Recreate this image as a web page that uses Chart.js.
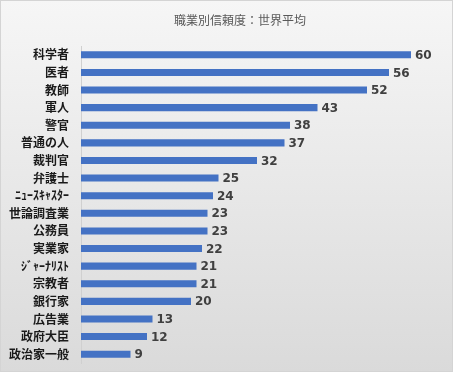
<!DOCTYPE html>
<html lang="ja">
<head>
<meta charset="utf-8">
<script src="https://cdn.jsdelivr.net/npm/chart.js@4/dist/chart.umd.min.js"></script>
<style>
  html, body { margin: 0; padding: 0; }
  #box {
    position: relative;
    width: 453px;
    height: 372px;
    background: linear-gradient(to bottom, #f6f6f6 0%, #dadada 100%);
    box-shadow: inset 0 0 0 1px #d4d4d4;
  }
  #grafico { position: absolute; left: 0; top: 0; }
</style>
</head>
<body>
<div id="box">
  <canvas id="grafico" width="453" height="372"></canvas>
</div>
<script>
/* ============================
   DATI
============================ */

const titolo = '職業別信頼度：世界平均';

const professioni = [
  '科学者', '医者', '教師', '軍人', '警官', '普通の人', '裁判官', '弁護士',
  'ﾆｭｰｽｷｬｽﾀｰ', '世論調査業', '公務員', '実業家', 'ｼﾞｬｰﾅﾘｽﾄ', '宗教者',
  '銀行家', '広告業', '政府大臣', '政治家一般'
];

const fiducia = [60, 56, 52, 43, 38, 37, 32, 25, 24, 23, 23, 22, 21, 21, 20, 13, 12, 9];

/* ============================
   TITOLO + ETICHETTE VALORI
============================ */

// il titolo nell'originale non e' centrato sul canvas, lo disegno a mano
const titoloSpostato = {
  id: 'titoloSpostato',
  afterDraw(chart) {
    const ctx = chart.ctx;
    ctx.save();
    ctx.font = '12px "Noto Sans CJK JP"';
    ctx.fillStyle = '#595959';
    ctx.textAlign = 'center';
    ctx.textBaseline = 'middle';
    ctx.fillText(titolo, 240, 20);
    ctx.restore();
  }
};

const etichetteValori = {
  id: 'etichetteValori',
  afterDatasetsDraw(chart) {
    const ctx = chart.ctx;
    const meta = chart.getDatasetMeta(0);
    ctx.save();
    ctx.font = 'bold 12px "DejaVu Sans"';
    ctx.fillStyle = '#404040';
    ctx.textAlign = 'left';
    ctx.textBaseline = 'middle';
    meta.data.forEach((bar, i) => {
      ctx.fillText(String(fiducia[i]), bar.x + 4, bar.y + 1);
    });
    ctx.restore();
  }
};

/* ============================
   GRAFICO
============================ */

new Chart(document.getElementById('grafico').getContext('2d'), {
  type: 'bar',
  data: {
    labels: professioni,
    datasets: [{
      data: fiducia,
      backgroundColor: '#4472C4',
      barPercentage: 0.4,
      categoryPercentage: 1
    }]
  },
  plugins: [etichetteValori, titoloSpostato],
  options: {
    indexAxis: 'y',
    responsive: false,
    animation: false,
    layout: { padding: { left: 0, right: 42, top: 46, bottom: 9 } },
    plugins: {
      legend: { display: false },
      tooltip: { enabled: false },
      title: { display: false }
    },
    scales: {
      x: {
        display: false,
        min: 0,
        max: 60
      },
      y: {
        afterFit: scale => {
          scale.width = 81;
          scale.paddingTop = 0;
          scale.paddingBottom = 0;
        },
        grid: { display: false, drawTicks: false },
        border: { display: true, color: '#d0d0d0' },
        ticks: {
          color: '#1a1a1a',
          padding: 12,
          autoSkip: false,
          font: { family: '"Noto Sans CJK JP"', size: 12, weight: 'bold' }
        }
      }
    }
  }
});
</script>
</body>
</html>
